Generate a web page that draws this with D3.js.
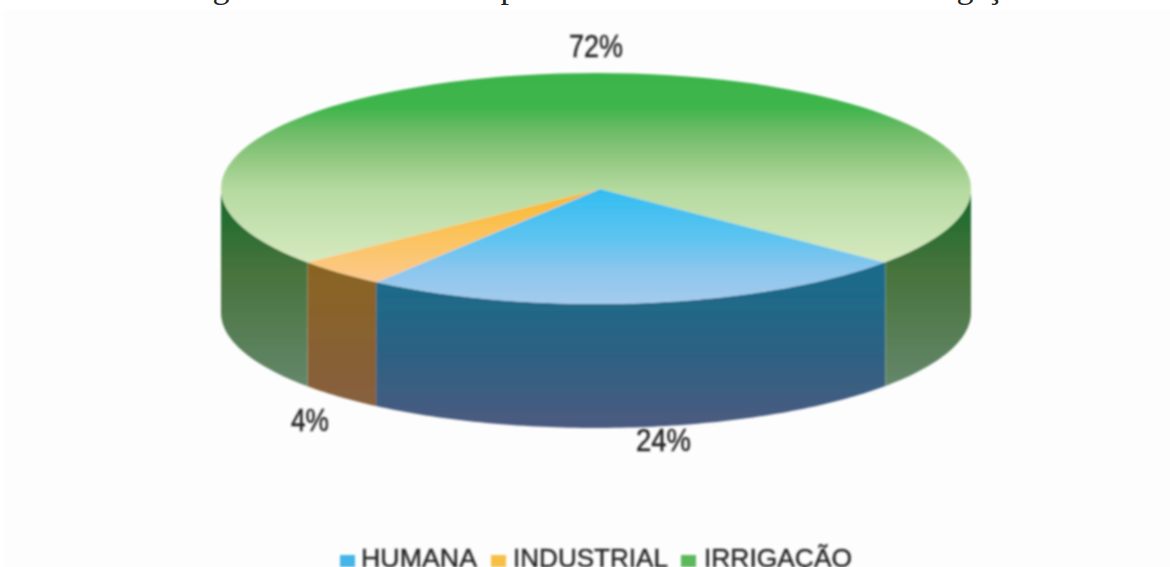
<!DOCTYPE html>
<html><head><meta charset="utf-8">
<script src="https://cdn.jsdelivr.net/npm/d3@7/dist/d3.min.js"></script>
<style>html,body{margin:0;padding:0;background:#fff;overflow:hidden}svg{display:block}</style>
</head><body><div id="c"></div>
<script>
const categories = ["HUMANA","INDUSTRIAL","IRRIGAÇÃO"];
const values = [24,4,72];
const percentLabels = ["24%","4%","72%"];
const titleGlyphs = ["g","p","g","ç"];

const W=1170,H=567,cx=596,cy=188.5,rx=375,ry=115.5,depth=124,apexX=600,apexY=189;
const topStops=[
  [[190,"#33bdf2"],[240,"#5fc4f0"],[270,"#8cc6ee"],[304,"#a4cbec"]],
  [[190,"#f9b82c"],[240,"#fbc462"],[285,"#fdca90"]],
  [[73,"#3ab54a"],[108,"#3fb54c"],[130,"#6bbb66"],[160,"#94c983"],[190,"#b5daa0"],[262,"#d6e9c0"]]];
const sideStops=[
  [[283,"#1c6a8a"],[350,"#2c6283"],[428,"#4c5a80"]],
  [[262,"#8b6422"],[405,"#87603f"]],
  [[190,"#126a2c"],[270,"#47733c"],[385,"#64876a"]]];
const legendColors=["#45b4e6","#f6c044","#5cb85c"];

const svg=d3.select("#c").append("svg").attr("width",W).attr("height",H);
const defs=svg.append("defs");
defs.append("filter").attr("id","soft").attr("x","-5%").attr("y","-5%").attr("width","110%").attr("height","110%")
  .append("feGaussianBlur").attr("stdDeviation",0.9);
function grad(id,stops,toY){
  const a=stops[0][0],b=stops[stops.length-1][0];
  const g=defs.append("linearGradient").attr("id",id).attr("gradientUnits","userSpaceOnUse")
    .attr("x1",0).attr("x2",0).attr("y1",toY(a)).attr("y2",toY(b));
  stops.forEach(s=>g.append("stop").attr("offset",(s[0]-a)/(b-a)).attr("stop-color",s[1]));
}
const toLocal=y=>(y-apexY)*rx/ry;
categories.forEach((_,i)=>{grad("t"+i,topStops[i],toLocal);grad("s"+i,sideStops[i],y=>y);});
defs.append("clipPath").attr("id","rim").append("ellipse")
  .attr("cx",cx).attr("cy",cy).attr("rx",rx).attr("ry",ry);

svg.append("rect").attr("x",4).attr("y",10).attr("width",W-4).attr("height",H-10).attr("fill","#fdfdfd");

const deg=Math.PI/180;
const pieRim=d3.pie().sort(null).startAngle(129.5*deg).endAngle(489.5*deg);
const pieTop=d3.pie().sort(null).startAngle(130*deg).endAngle(490*deg);
const arcsRim=pieRim(values), arcsTop=pieTop(values);
const X=d3.scaleLinear().domain([-1,1]).range([cx-rx,cx+rx]);
const Y=d3.scaleLinear().domain([-1,1]).range([cy-ry,cy+ry]);
const root=svg.append("g").attr("filter","url(#soft)");

const line=d3.line().x(d=>d[0]).y(d=>d[1]);
function wall(a0,a1,i){
  for(const k of [0,360]){
    const s=Math.max(a0,(90+k)*deg),e=Math.min(a1,(270+k)*deg);
    if(e<=s) continue;
    const n=Math.ceil((e-s)/deg);
    const ang=d3.range(n+1).map(j=>s+(e-s)*j/n);
    const up=ang.map(a=>[X(Math.sin(a)),Y(-Math.cos(a))]);
    const dn=up.map(p=>[p[0],p[1]+depth]).reverse();
    root.append("path").attr("d",line(up.concat(dn))+"Z").attr("fill",`url(#s${i})`);
  }
}
arcsRim.forEach((d,i)=>wall(d.startAngle,d.endAngle,i));

const arc=d3.arc().innerRadius(0).outerRadius(rx+20);
const topG=root.append("g").attr("clip-path","url(#rim)")
  .append("g").attr("transform",`translate(${apexX},${apexY}) scale(1,${ry/rx})`);
[2,1,0].forEach(i=>{
  topG.append("path").attr("d",arc(arcsTop[i])).attr("fill",`url(#t${i})`);
});

// percent labels
const labelPos=[[663.5,451,55],[310,431,38],[596,57,54]];
const txt=svg.append("g").attr("filter","url(#soft)").attr("font-family","'Liberation Sans',Arial,sans-serif").attr("fill","#262626");
percentLabels.forEach((t,i)=>{
  txt.append("text").attr("x",labelPos[i][0]).attr("y",labelPos[i][1]).attr("text-anchor","middle")
    .attr("font-size",31).attr("stroke","#262626").attr("stroke-width",0.5)
    .attr("textLength",labelPos[i][2]).attr("lengthAdjust","spacingAndGlyphs").text(t);
});

// legend
const legX=[[340,361,116],[491,513,155],[681,704,148]];
categories.forEach((c,i)=>{
  txt.append("rect").attr("x",legX[i][0]).attr("y",555).attr("width",15).attr("height",12).attr("fill",legendColors[i]);
  txt.append("text").attr("x",legX[i][1]).attr("y",567).attr("font-size",25)
    .attr("stroke","#262626").attr("stroke-width",0.4)
    .attr("textLength",legX[i][2]).attr("lengthAdjust","spacingAndGlyphs").text(c);
});

// caption above the chart is cut by the picture's top edge: only descenders show
const glyphX=[221,509,965,994];
titleGlyphs.forEach((g,i)=>{
  svg.append("text").attr("x",glyphX[i]).attr("y",-2).attr("text-anchor","middle")
    .attr("font-family","'Liberation Serif',serif").attr("font-size",34).attr("fill","#222").text(g);
});
</script></body></html>
